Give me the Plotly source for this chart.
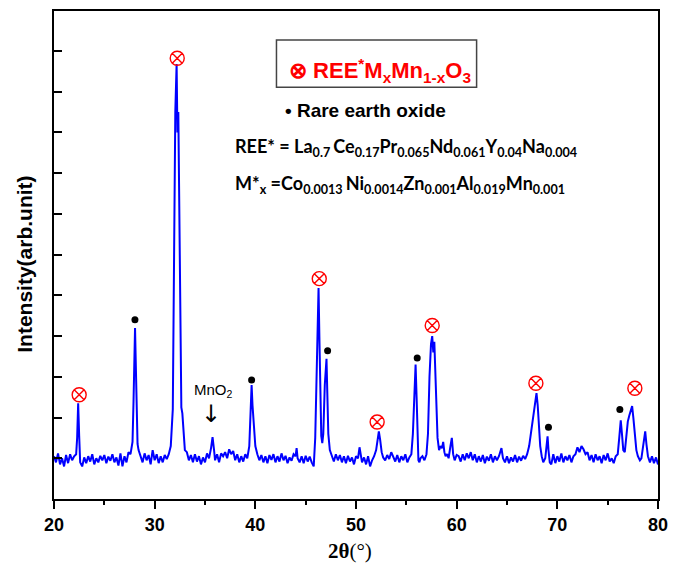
import plotly.graph_objects as go

# ---- XRD pattern (2theta in degrees, intensity in arb. units) ----
two_theta_a = [20.0, 20.2, 20.4, 20.6, 20.8, 21.0, 21.2, 21.4, 21.6, 21.8, 22.0, 22.2, 22.3, 22.4, 22.5,
               22.6, 22.8, 23.0, 23.2, 23.4, 23.6, 23.8, 24.0, 24.2, 24.4, 24.6, 24.8, 25.0, 25.2, 25.4,
               25.6, 25.8, 26.0, 26.2, 26.4, 26.6, 26.8, 27.0, 27.2, 27.4, 27.6, 27.8, 27.9, 28.0, 28.05,
               28.1, 28.2, 28.3, 28.4, 28.6, 28.8, 29.0, 29.2, 29.4, 29.6, 29.8]
intensity_a = [0.05, -0.1, 0.12, -0.15, 0.0, -0.2, 0.08, -0.12, 0.1, -0.05, 0.05, 0.1, 0.5, 1.35, 0.55,
               -0.1, -0.2, 0.02, -0.12, 0.05, -0.08, 0.1, -0.15, 0.0, -0.1, 0.06, -0.05, 0.08, -0.12, 0.04,
               -0.06, 0.1, -0.1, 0.02, -0.18, 0.12, -0.2, 0.05, -0.1, 0.15, 0.1, 0.4, 1.4, 3.0, 3.2,
               2.6, 1.0, 0.35, 0.2, 0.05, -0.1, 0.12, -0.05, 0.08, -0.15, 0.2]

two_theta_b = [30.0, 30.2, 30.4, 30.6, 30.8, 31.0, 31.2, 31.4, 31.6, 31.8, 31.95, 32.05, 32.18, 32.26, 32.35,
               32.45, 32.55, 32.65, 32.75, 32.85, 33.0, 33.2, 33.4, 33.6, 33.8, 34.0, 34.2, 34.4, 34.6, 34.8,
               35.0, 35.2, 35.4, 35.6, 35.75, 35.9, 36.0, 36.2, 36.4, 36.6, 36.8, 37.0, 37.2, 37.4, 37.6,
               37.8, 38.0, 38.2, 38.4, 38.6, 38.8, 39.0, 39.2, 39.4, 39.55, 39.63, 39.72, 39.85]
intensity_b = [-0.05, 0.1, -0.12, 0.05, -0.1, 0.08, -0.02, 0.1, 0.3, 1.2, 5.0, 8.5, 9.68, 8.0, 8.5,
               5.5, 2.0, 1.25, 1.1, 0.6, 0.2, 0.15, -0.05, 0.08, -0.1, 0.1, -0.08, 0.05, -0.15, 0.02,
               -0.1, 0.12, 0.0, 0.25, 0.52, 0.2, -0.05, 0.1, -0.1, 0.12, 0.05, 0.15, 0.0, 0.22, 0.1,
               0.18, -0.05, 0.1, -0.1, 0.05, -0.08, 0.1, 0.0, 0.3, 1.6, 1.8, 1.3, 0.7]

two_theta_c = [40.0, 40.2, 40.4, 40.6, 40.8, 41.0, 41.2, 41.4, 41.6, 41.8, 42.0, 42.2, 42.4, 42.6, 42.8,
               43.0, 43.2, 43.4, 43.6, 43.8, 44.0, 44.1, 44.2, 44.4, 44.6, 44.8, 45.0, 45.2, 45.4, 45.6,
               45.8, 45.95, 46.1, 46.2, 46.28, 46.36, 46.45, 46.55, 46.65, 46.75, 46.9, 47.0, 47.07, 47.15, 47.25,
               47.4, 47.6, 47.8, 48.0, 48.2, 48.4, 48.6, 48.8, 49.0, 49.2, 49.4, 49.6, 49.8]
intensity_c = [0.3, 0.1, -0.05, 0.08, -0.1, 0.05, -0.12, 0.08, -0.04, 0.1, -0.1, 0.05, -0.08, 0.12, -0.05,
               0.06, -0.12, 0.02, -0.06, 0.1, 0.05, 0.25, 0.0, -0.1, 0.05, -0.12, 0.06, -0.08, 0.04, -0.1,
               -0.2, 0.5, 2.5, 3.9, 4.18, 3.0, 1.2, 0.55, 0.37, 0.6, 1.8, 2.3, 2.44, 1.6, 0.6,
               0.2, 0.05, -0.08, 0.1, -0.05, 0.08, -0.1, 0.05, -0.12, 0.06, -0.08, 0.02, -0.15]

two_theta_d = [50.0, 50.2, 50.35, 50.5, 50.6, 50.8, 51.0, 51.2, 51.4, 51.6, 51.8, 52.0, 52.15, 52.27, 52.4,
               52.55, 52.7, 52.9, 53.1, 53.3, 53.5, 53.7, 53.9, 54.1, 54.3, 54.5, 54.7, 54.9, 55.1, 55.3,
               55.5, 55.65, 55.8, 55.92, 56.02, 56.12, 56.2, 56.3, 56.4, 56.6, 56.8, 57.0, 57.15, 57.3, 57.45,
               57.57, 57.68, 57.78, 57.88, 57.98, 58.1, 58.25, 58.4, 58.55, 58.66, 58.78, 58.9, 59.05, 59.2, 59.38,
               59.52, 59.65, 59.8]
intensity_d = [0.05, 0.0, 0.27, 0.05, -0.1, 0.02, -0.15, 0.05, -0.2, -0.05, 0.05, 0.2, 0.5, 0.66, 0.45,
               0.15, 0.02, -0.05, 0.08, -0.02, 0.15, 0.05, -0.08, 0.08, -0.1, 0.05, -0.05, 0.1, -0.1, 0.02,
               0.1, 0.6, 1.8, 2.3, 1.5, 0.4, -0.05, -0.1, 0.0, 0.05, -0.05, 0.1, 0.6, 2.0, 2.8,
               3.0, 2.6, 2.86, 2.2, 1.2, 0.5, 0.2, 0.3, 0.25, 0.4, 0.15, 0.05, 0.1, 0.0, 0.3,
               0.5, 0.1, -0.05]

two_theta_e = [60.0, 60.2, 60.4, 60.6, 60.8, 61.0, 61.2, 61.4, 61.6, 61.8, 62.0, 62.2, 62.4, 62.6, 62.8,
               63.0, 63.2, 63.4, 63.6, 63.8, 64.0, 64.2, 64.45, 64.6, 64.8, 65.0, 65.2, 65.4, 65.6, 65.8,
               66.0, 66.2, 66.4, 66.6, 66.8, 67.0, 67.2, 67.44, 67.6, 67.75, 67.93, 68.05, 68.15, 68.3, 68.45,
               68.6, 68.8, 68.95, 69.03, 69.12, 69.25, 69.4, 69.6, 69.8]
intensity_e = [0.08, 0.05, -0.08, 0.1, -0.05, 0.12, 0.0, 0.15, -0.05, 0.1, -0.1, 0.05, -0.08, 0.08, -0.12,
               0.04, -0.06, 0.1, -0.1, 0.05, -0.05, 0.05, 0.25, 0.0, -0.1, 0.05, -0.12, 0.02, -0.08, 0.08,
               -0.1, 0.04, -0.06, 0.06, -0.02, 0.1, 0.3, 0.74, 0.9, 1.3, 1.6, 1.3, 0.8, 0.3, 0.05,
               -0.1, 0.0, 0.3, 0.54, 0.2, -0.1, -0.15, 0.1, -0.12]

two_theta_f = [70.0, 70.2, 70.4, 70.6, 70.8, 71.0, 71.2, 71.4, 71.6, 71.8, 72.0, 72.2, 72.4, 72.6, 72.8,
               73.0, 73.2, 73.4, 73.6, 73.8, 74.0, 74.2, 74.4, 74.6, 74.8, 75.0, 75.2, 75.4, 75.6, 75.8,
               76.0, 76.15, 76.3, 76.42, 76.55, 76.7, 76.85, 77.0, 77.15, 77.3, 77.43, 77.55, 77.7, 77.85, 78.0,
               78.2, 78.35, 78.55, 78.73, 78.85, 79.0, 79.2, 79.4, 79.6, 79.8, 80.0]
intensity_f = [0.05, -0.08, 0.12, -0.1, 0.05, -0.05, 0.08, -0.1, 0.05, 0.1, 0.27, 0.15, 0.3, 0.22, 0.1,
               0.15, -0.05, 0.08, -0.1, 0.1, -0.05, 0.05, -0.12, 0.08, -0.05, 0.12, -0.08, 0.0, -0.12, 0.05,
               0.1, 0.5, 0.93, 0.6, 0.2, 0.15, 0.5, 0.9, 1.05, 1.2, 1.28, 1.0, 0.5, 0.2, 0.05,
               -0.05, 0.0, 0.3, 0.66, 0.35, 0.05, -0.1, 0.05, -0.12, 0.02, -0.15]

# ---- phase markers ----
perovskite_x = [22.5, 32.24, 46.35, 52.1, 57.57, 67.87, 77.7]   # REE*MxMn1-xO3
perovskite_y = [1.56, 9.82, 4.41, 0.89, 3.26, 1.84, 1.72]
oxide_x = [28.04, 39.63, 47.18, 56.08, 69.12, 76.21]              # rare earth oxide
oxide_y = [3.4, 1.92, 2.64, 2.46, 0.76, 1.2]

x_ticks = [20, 30, 40, 50, 60, 70, 80]

two_theta = two_theta_a + two_theta_b + two_theta_c + two_theta_d + two_theta_e + two_theta_f
intensity = intensity_a + intensity_b + intensity_c + intensity_d + intensity_e + intensity_f

fig = go.Figure()
fig.add_trace(go.Scatter(x=two_theta, y=intensity, mode="lines",
                         line=dict(color="#0000ff", width=2), hoverinfo="skip"))
fig.add_trace(go.Scatter(x=perovskite_x, y=perovskite_y, mode="markers",
                         marker=dict(symbol="circle-x-open", size=14, color="#ff0000",
                                     line=dict(width=1.4, color="#ff0000"))))
fig.add_trace(go.Scatter(x=oxide_x, y=oxide_y, mode="markers",
                         marker=dict(symbol="circle", size=7, color="#000000")))

sans = "Liberation Sans"
anns = [
    dict(x=52.37, y=9.53, xanchor="center", yanchor="middle",
         text="⊗ REE<sup>*</sup>M<sub>x</sub>Mn<sub>1-x</sub>O<sub>3</sub>",
         font=dict(family=sans, size=22, color="#ff0000", weight="bold")),
    dict(x=42.74, y=8.53, xanchor="left", yanchor="middle",
         text="• Rare earth oxide", font=dict(family=sans, size=19, color="#000000", weight="bold")),
    dict(x=37.78, y=7.64, xanchor="left", yanchor="middle",
         text="REE* = La<sub>0.7 </sub>Ce<sub>0.17</sub>Pr<sub>0.065</sub>Nd<sub>0.061</sub>"
              "Y<sub>0.04</sub>Na<sub>0.004</sub>",
         font=dict(family="Lato", size=18, color="#000000", weight="bold")),
    dict(x=37.78, y=6.73, xanchor="left", yanchor="middle",
         text="M*<sub>x</sub> =Co<sub>0.0013 </sub>Ni<sub>0.0014</sub>Zn<sub>0.001</sub>"
              "Al<sub>0.019</sub>Mn<sub>0.001</sub>",
         font=dict(family="Lato", size=18, color="#000000", weight="bold")),
    dict(x=35.89, y=1.67, xanchor="center", yanchor="middle",
         text="MnO<sub>2</sub>", font=dict(family=sans, size=15, color="#000000")),
    dict(x=35.6, y=1.08, xanchor="center", yanchor="middle",
         text="↓", font=dict(family="DejaVu Sans", size=24, color="#000000")),
    dict(x=-0.048, y=0.48, xref="paper", yref="paper", xanchor="center", yanchor="middle",
         textangle=-90, text="Intensity(arb.unit)",
         font=dict(family=sans, size=21, color="#000000", weight="bold")),
    dict(x=0.49, y=-0.106, xref="paper", yref="paper", xanchor="center", yanchor="middle",
         text="<b>2θ</b>(°)", font=dict(family="Liberation Serif", size=21, color="#000000")),
]
for a in anns:
    a.setdefault("showarrow", False)
    fig.add_annotation(**a)

fig.add_shape(type="rect", x0=42.1, x1=61.98, y0=9.11, y1=10.27,
              line=dict(color="#444444", width=1.5), fillcolor="rgba(0,0,0,0)")

# the page body adds an 8px margin, so the figure is sized to sit inside the 681x572 window
fig.update_layout(
    width=665, height=556, showlegend=False,
    margin=dict(l=46, r=15, t=3, b=65, autoexpand=False),
    plot_bgcolor="white", paper_bgcolor="white",
    xaxis=dict(range=[20, 80], tickvals=x_ticks, ticktext=[str(v) for v in x_ticks],
               showgrid=False, zeroline=False, showline=True, linecolor="black", linewidth=2,
               mirror=True, ticks="outside", ticklen=8, tickwidth=2, tickcolor="black",
               minor=dict(dtick=5, ticks="outside", ticklen=4, tickwidth=2, tickcolor="black"),
               tickfont=dict(family=sans, size=18, color="black", weight="bold")),
    yaxis=dict(range=[-1.0, 10.98], dtick=1, tick0=0, showticklabels=False,
               showgrid=False, zeroline=False, showline=True, linecolor="black", linewidth=2,
               mirror=True, ticks="inside", ticklen=8, tickwidth=1.5, tickcolor="black"),
)
fig.write_html("out.html")
